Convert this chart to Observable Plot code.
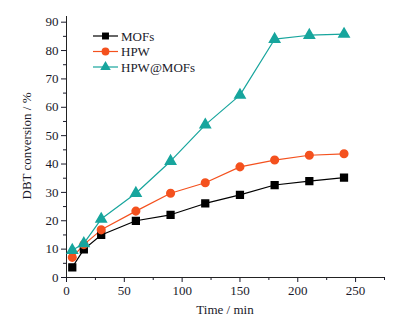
<!DOCTYPE html>
<html><head><meta charset="utf-8">
<script src="https://cdn.jsdelivr.net/npm/d3@7"></script>
<script src="https://cdn.jsdelivr.net/npm/@observablehq/plot@0.6"></script>
<style>
body{margin:0;background:#fff;}
#wrap{position:relative;width:400px;height:330px;font-family:"Liberation Serif","Times New Roman",serif;}
</style></head>
<body><div id="wrap"></div>
<script>
const times = [5, 15, 30, 60, 90, 120, 150, 180, 210, 240];
const mofs = [3.6, 9.9, 15.0, 20.0, 22.1, 26.1, 29.1, 32.6, 34.0, 35.2];
const hpw = [7.1, 11.6, 16.8, 23.4, 29.7, 33.4, 39.0, 41.4, 43.1, 43.6];
const hpwMofs = [9.6, 12.0, 20.6, 29.7, 41.0, 53.8, 64.3, 84.0, 85.4, 85.8];
const seriesNames = ["MOFs", "HPW", "HPW@MOFs"];
const seriesColors = ["#000000", "#f4511e", "#17a59d"];
const seriesSymbols = ["square", "circle", "triangle"];
const xTicks = [0, 50, 100, 150, 200, 250];
const yTicks = [0, 10, 20, 30, 40, 50, 60, 70, 80, 90];

const rows = [];
[mofs, hpw, hpwMofs].forEach((vals, i) => vals.forEach((v, j) => rows.push({series: seriesNames[i], t: times[j], c: v})));

const font = `"Liberation Serif","Times New Roman",serif`;
const noText = () => "";
const plot = Plot.plot({
  width: 400, height: 330,
  marginLeft: 66, marginRight: 16, marginTop: 16, marginBottom: 53,
  style: {fontFamily: font, fontSize: "13px", color: "#1a1a2a", background: "#fff"},
  x: {domain: [0, 275], label: null},
  y: {domain: [0, 92], label: null},
  color: {domain: seriesNames, range: seriesColors},
  symbol: {domain: seriesNames, range: seriesSymbols},
  marks: [
    Plot.axisX({ticks: xTicks, tickSize: 5, tickPadding: 3, label: null, fontSize: 13}),
    Plot.axisX({ticks: d3.range(25, 276, 50), tickSize: 3, tickFormat: noText, label: null}),
    Plot.axisY({ticks: yTicks, tickSize: 5, tickPadding: 3, label: null, fontSize: 13}),
    Plot.axisY({ticks: d3.range(5, 92, 10), tickSize: 3, tickFormat: noText, label: null}),
    Plot.ruleX([0], {stroke: "#222"}),
    Plot.ruleY([0], {stroke: "#222"}),
    Plot.line(rows, {x: "t", y: "c", z: "series", stroke: "series", strokeWidth: 1.2}),
    Plot.dot(rows, {x: "t", y: "c", symbol: "series", fill: "series", stroke: "series", r: 3.8})
  ]
});
const wrap = document.getElementById("wrap");
wrap.appendChild(plot);

const svg = d3.select(plot);
svg.append("text").attr("x", 225).attr("y", 314).attr("text-anchor", "middle")
  .style("font-family", font).style("font-size", "13px").attr("fill", "#1a1a2a").text("Time / min");
svg.append("text").attr("transform", "translate(31,146) rotate(-90)").attr("text-anchor", "middle")
  .style("font-family", font).style("font-size", "13px").attr("fill", "#1a1a2a").text("DBT conversion / %");

const lg = svg.append("g").attr("text-anchor", "start");
const symTypes = {square: d3.symbolSquare, circle: d3.symbolCircle, triangle: d3.symbolTriangle};
seriesNames.forEach((n, i) => {
  const y = 36 + i * 15.5;
  lg.append("line").attr("x1", 93).attr("x2", 118).attr("y1", y).attr("y2", y).attr("stroke", seriesColors[i]).attr("stroke-width", 1.2);
  lg.append("path").attr("d", d3.symbol().type(symTypes[seriesSymbols[i]]).size(48)()).attr("transform", `translate(105.5,${y})`).attr("fill", seriesColors[i]);
  lg.append("text").attr("x", 121).attr("y", y).attr("dy", "0.35em").style("font-family", font).style("font-size", "13px").attr("fill", "#1a1a2a").text(n);
});
</script></body></html>
